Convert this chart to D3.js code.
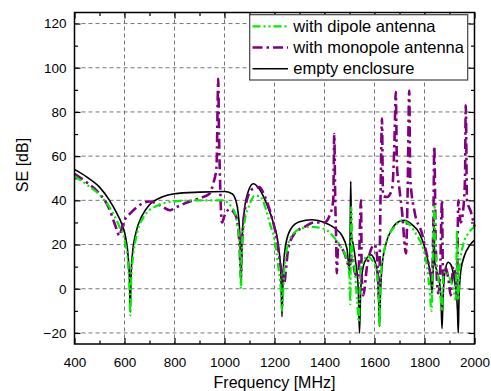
<!DOCTYPE html>
<html>
<head>
<meta charset="utf-8">
<script src="https://cdn.jsdelivr.net/npm/d3@7"></script>
<style>
  body { margin: 0; background: #fff; }
  text { font-family: Arial, "Liberation Sans", sans-serif; fill: #000; }
</style>
</head>
<body>
<svg></svg>
<script>
/* Shielding effectiveness vs frequency */
var w = 491, h = 391;
var margin = {left: 74.5, right: 16.5, top: 12.5, bottom: 47};

// x ticks / y ticks
var xTicks = [400, 600, 800, 1000, 1200, 1400, 1600, 1800, 2000];
var yTicks = [-20, 0, 20, 40, 60, 80, 100, 120];

// series, [frequency MHz, SE dB]
var emptyEnclosure = [
  [400, 54], [450, 50.5], [500, 46], [540, 40], [570, 34], [590, 29], [605, 23],
  [615, 14], [620, 4], [623, -10.5], [626, 5], [632, 16], [645, 25], [670, 33],
  [700, 38], [750, 41.5], [800, 43], [900, 43.7], [1000, 44], [1030, 43],
  [1045, 40], [1055, 34], [1062, 22], [1066, 2], [1070, 22], [1080, 36],
  [1095, 44], [1115, 47.5], [1140, 45], [1170, 38], [1195, 30], [1215, 20],
  [1225, 8], [1230, -12.7], [1235, 8], [1245, 20], [1265, 27], [1300, 30.3],
  [1350, 31.2], [1400, 30], [1440, 27.5], [1470, 24], [1490, 18], [1500, 8],
  [1503, 30], [1505, 48.6], [1508, 24], [1515, 20], [1525, 12], [1535, 0],
  [1540, -20], [1545, 0], [1555, 10], [1570, 14], [1585, 15.4], [1600, 13],
  [1610, 8], [1617, -5], [1620, -17], [1623, -5], [1630, 10], [1645, 20],
  [1670, 27], [1700, 30.5], [1720, 31], [1750, 29], [1780, 25], [1800, 19],
  [1815, 12], [1825, 5], [1830, -2], [1835, 10], [1838, 32], [1841, 12],
  [1850, 8], [1860, 3], [1866, -5], [1870, -18], [1874, -5], [1882, 8],
  [1895, 12], [1905, 11], [1915, 7], [1925, 0], [1932, -10], [1935, -20],
  [1938, -5], [1945, 8], [1960, 15], [1980, 19.5], [2000, 22]
];

var dipoleAntenna = [
  [400, 51], [450, 47], [500, 42.5], [550, 35], [580, 28], [600, 22], [615, 10],
  [620, 0], [623, -12], [627, 5], [635, 15], [650, 25], [680, 33], [720, 37],
  [800, 39.5], [900, 40], [1000, 40], [1020, 38], [1035, 36], [1050, 30],
  [1060, 20], [1066, 0], [1070, 20], [1080, 30], [1100, 38], [1120, 42],
  [1140, 42], [1160, 38], [1180, 30], [1200, 22], [1215, 10], [1225, 0],
  [1230, -10], [1240, 10], [1260, 22], [1300, 27], [1350, 28], [1400, 27],
  [1440, 23], [1470, 18], [1490, 13], [1500, 5], [1503, -7], [1507, 37],
  [1512, 15], [1520, 10], [1530, -5], [1538, -15], [1542, 5], [1545, 10],
  [1555, 12], [1570, 15], [1590, 13], [1605, 10], [1615, 0], [1620, -17],
  [1625, 5], [1635, 15], [1650, 22], [1680, 28], [1710, 31], [1740, 29],
  [1770, 24], [1795, 18], [1810, 10], [1820, 0], [1828, -10], [1835, 20],
  [1840, 38], [1845, 15], [1855, 5], [1865, -5], [1870, -10], [1875, 5],
  [1885, 8], [1900, 5], [1915, 0], [1925, -5], [1930, 26], [1935, -5],
  [1940, 10], [1955, 20], [1975, 25], [2000, 28]
];

var monopoleAntenna = [
  [400, 52], [450, 48], [500, 43], [540, 36], [565, 28], [580, 24], [590, 28],
  [600, 31], [622, 34], [650, 37], [700, 39.5], [742, 37.8], [782, 35.5],
  [800, 36.5], [850, 39], [900, 41], [940, 43], [955, 47.6], [968, 55],
  [975, 95], [978, 70], [982, 50], [985, 38], [990, 30], [1000, 33],
  [1020, 36], [1045, 33], [1060, 20], [1066, 5], [1070, 20], [1085, 38],
  [1110, 45], [1140, 46], [1160, 42], [1190, 32], [1210, 22], [1225, 10],
  [1240, 3], [1245, 8], [1255, 18], [1280, 25], [1320, 28], [1360, 30],
  [1400, 30], [1420, 33], [1435, 40], [1439, 70], [1443, 40], [1447, 20],
  [1449, 7], [1455, 20], [1480, 16], [1500, 10], [1510, 15], [1520, 8],
  [1535, 5], [1546, 40], [1549, 5], [1555, -3], [1570, 10], [1600, 20],
  [1610, 15], [1618, -5], [1624, 40], [1630, 77], [1634, 42], [1650, 41.5],
  [1670, 45], [1680, 67], [1685, 89], [1690, 55], [1700, 45], [1710, 35],
  [1726, 16], [1732, 40], [1739, 89.7], [1743, 50], [1760, 35], [1790, 25],
  [1810, 15], [1830, 5], [1836, 35], [1839, 64.5], [1845, 20], [1855, -2],
  [1862, 5], [1870, 40], [1874, 5], [1880, 10], [1895, 5], [1905, -3],
  [1915, 10], [1925, 5], [1930, -5], [1935, 40], [1945, 30], [1955, 36],
  [1962, 50], [1965, 83], [1970, 40], [1985, 35], [2000, 28]
];

var legendLabels = ["with dipole antenna", "with monopole antenna", "empty enclosure"];

var svg = d3.select("svg")
            .attr("width", w)
            .attr("height", h);

var x = d3.scaleLinear().domain([400, 2000]).range([margin.left, w - margin.right]);
var y = d3.scaleLinear().domain([-25, 125]).range([h - margin.bottom, margin.top]);

// grid
svg.append("g")
   .selectAll("line")
   .data(xTicks.slice(1, -1))
   .enter()
   .append("line")
   .attr("x1", function(d) { return x(d); })
   .attr("x2", function(d) { return x(d); })
   .attr("y1", y(125))
   .attr("y2", y(-25))
   .attr("stroke", "#777")
   .attr("stroke-width", 1)
   .attr("stroke-dasharray", "4,3");

svg.append("g")
   .selectAll("line")
   .data(yTicks)
   .enter()
   .append("line")
   .attr("x1", x(400))
   .attr("x2", x(2000))
   .attr("y1", function(d) { return y(d); })
   .attr("y2", function(d) { return y(d); })
   .attr("stroke", "#777")
   .attr("stroke-width", 1)
   .attr("stroke-dasharray", "4,3");

// axes, ticks inside
function styleAxis(g) {
  g.select(".domain").remove();
  g.selectAll("line").attr("stroke", "#000").attr("stroke-width", 1.2);
  g.selectAll("text").style("font-size", "13.5px").style("font-family", "Arial, 'Liberation Sans', sans-serif");
}

var minorX = d3.range(500, 2000, 200);
var minorY = d3.range(-20, 125, 10).filter(function(d) { return d % 20 !== 0; });

svg.append("g")
   .attr("transform", "translate(0," + y(-25) + ")")
   .call(d3.axisBottom(x).tickValues(xTicks).tickSize(-6).tickPadding(13).tickFormat(d3.format("d")))
   .call(styleAxis);
svg.append("g")
   .attr("transform", "translate(0," + y(-25) + ")")
   .call(d3.axisBottom(x).tickValues(minorX).tickSize(-3.5).tickFormat(""))
   .call(styleAxis);
svg.append("g")
   .attr("transform", "translate(0," + y(125) + ")")
   .call(d3.axisTop(x).tickValues(xTicks).tickSize(-6).tickFormat(""))
   .call(styleAxis);
svg.append("g")
   .attr("transform", "translate(0," + y(125) + ")")
   .call(d3.axisTop(x).tickValues(minorX).tickSize(-3.5).tickFormat(""))
   .call(styleAxis);

svg.append("g")
   .attr("transform", "translate(" + x(400) + ",0)")
   .call(d3.axisLeft(y).tickValues(yTicks).tickSize(-6).tickPadding(8))
   .call(styleAxis);
svg.append("g")
   .attr("transform", "translate(" + x(400) + ",0)")
   .call(d3.axisLeft(y).tickValues(minorY).tickSize(-3.5).tickFormat(""))
   .call(styleAxis);
svg.append("g")
   .attr("transform", "translate(" + x(2000) + ",0)")
   .call(d3.axisRight(y).tickValues(yTicks).tickSize(-6).tickFormat(""))
   .call(styleAxis);
svg.append("g")
   .attr("transform", "translate(" + x(2000) + ",0)")
   .call(d3.axisRight(y).tickValues(minorY).tickSize(-3.5).tickFormat(""))
   .call(styleAxis);

// series
var line = d3.line()
             .x(function(d) { return x(d[0]); })
             .y(function(d) { return y(d[1]); })
             .curve(d3.curveMonotoneX);

var series = [
  {data: emptyEnclosure, color: "#000", width: 1.6, dash: null},
  {data: monopoleAntenna, color: "#800080", width: 2.6, dash: "10,4,2.5,4"},
  {data: dipoleAntenna, color: "#00ee00", width: 2.2, dash: "8,3,2,3,2,3"}
];

svg.append("g")
   .selectAll("path")
   .data(series)
   .enter()
   .append("path")
   .attr("d", function(d) { return line(d.data); })
   .attr("fill", "none")
   .attr("stroke", function(d) { return d.color; })
   .attr("stroke-width", function(d) { return d.width; })
   .attr("stroke-dasharray", function(d) { return d.dash; });

// frame
svg.append("rect")
   .attr("x", x(400))
   .attr("y", y(125))
   .attr("width", x(2000) - x(400))
   .attr("height", y(-25) - y(125))
   .attr("fill", "none")
   .attr("stroke", "#000")
   .attr("stroke-width", 1.5);

// legend
var legendStyles = [series[2], series[1], series[0]];
var legend = svg.append("g");
legend.append("rect")
      .attr("x", 249.7)
      .attr("y", 14.7)
      .attr("width", 218)
      .attr("height", 65.3)
      .attr("fill", "#fff")
      .attr("stroke", "#444")
      .attr("stroke-width", 1.2);

var rows = legend.selectAll("g.row")
                 .data(legendLabels)
                 .enter()
                 .append("g")
                 .attr("class", "row")
                 .attr("transform", function(d, i) { return "translate(0," + (26.3 + i * 21.2) + ")"; });
rows.append("line")
    .attr("x1", 252.5)
    .attr("x2", 288)
    .attr("stroke", function(d, i) { return legendStyles[i].color; })
    .attr("stroke-width", function(d, i) { return legendStyles[i].width; })
    .attr("stroke-dasharray", function(d, i) { return legendStyles[i].dash; });
rows.append("text")
    .attr("x", 293.3)
    .attr("dy", "0.35em")
    .style("font-size", "16.5px")
    .text(function(d) { return d; });

// axis titles
svg.append("text")
   .attr("x", (x(400) + x(2000)) / 2)
   .attr("y", 387.5)
   .attr("text-anchor", "middle")
   .style("font-size", "16px")
   .text("Frequency [MHz]");

svg.append("text")
   .attr("transform", "translate(28,165) rotate(-90)")
   .attr("text-anchor", "middle")
   .style("font-size", "16px")
   .text("SE [dB]");
</script>
</body>
</html>
